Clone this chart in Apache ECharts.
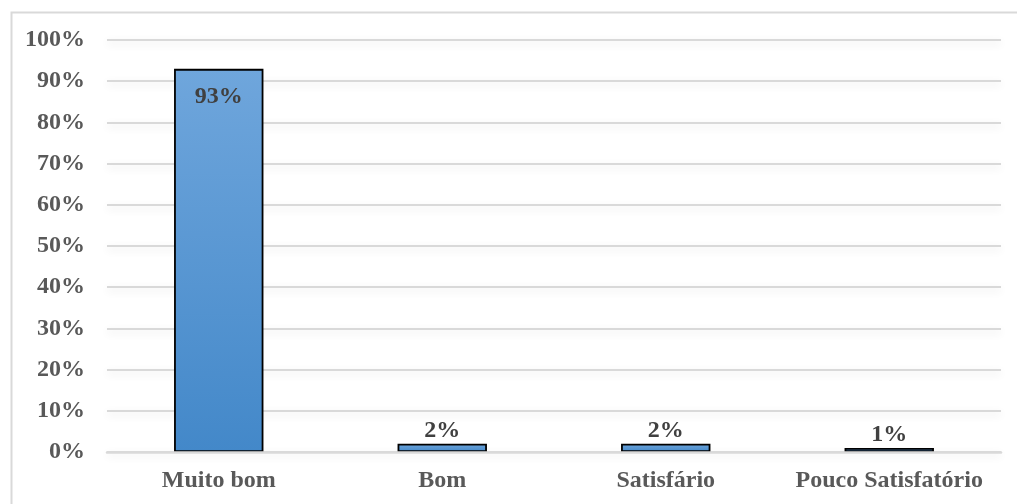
<!DOCTYPE html>
<html>
<head>
<meta charset="utf-8">
<style>
  html, body { margin: 0; padding: 0; background: #ffffff; }
  #chart { width: 1017px; height: 504px; }
</style>
<script src="https://cdn.jsdelivr.net/npm/echarts@6/dist/echarts.min.js"></script>
</head>
<body>
<div id="chart"></div>
<script>
// Rating categories and their shares (percent)
const categories = ['Muito bom', 'Bom', 'Satisfário', 'Pouco Satisfatório'];
const shares = [93, 2, 2, 1];
// Y axis ticks (percent)
const yMin = 0;
const yMax = 100;
const yStep = 10;

const serif = '"Liberation Serif", "Times New Roman", serif';

const chart = echarts.init(document.getElementById('chart'), null, { renderer: 'canvas' });

chart.setOption({
  backgroundColor: '#ffffff',
  animation: false,
  graphic: [{
    type: 'rect',
    left: 9,
    top: 10,
    shape: { width: 1030, height: 520 },
    style: { fill: 'none', stroke: '#d9d9d9', lineWidth: 2 },
    silent: true,
    z: 0
  }],
  grid: { left: 107, right: 16, top: 40, bottom: 52, containLabel: false },
  xAxis: {
    type: 'category',
    data: categories,
    z: 5,
    axisLine: { show: true, lineStyle: { color: '#d9d9d9', width: 2.5 } },
    axisTick: { show: false },
    axisLabel: {
      interval: 0,
      hideOverlap: false,
      color: '#595959',
      fontFamily: serif,
      fontWeight: 'bold',
      fontSize: 24,
      margin: 17
    }
  },
  yAxis: {
    type: 'value',
    min: yMin,
    max: yMax,
    interval: yStep,
    axisLine: { show: false },
    axisTick: { show: false },
    axisLabel: {
      formatter: v => v + '%',
      color: '#595959',
      fontFamily: serif,
      fontWeight: 'bold',
      fontSize: 24,
      margin: 22
    },
    splitLine: {
      lineStyle: {
        color: '#d9d9d9',
        width: 2,
        shadowColor: 'rgba(0,0,0,0.12)',
        shadowBlur: 8,
        shadowOffsetY: 3
      }
    }
  },
  series: [{
    type: 'bar',
    data: shares.map(v => ({
      value: v,
      label: v > 50
        ? { position: 'insideTop', distance: 16 }
        : { position: 'top', distance: 1 }
    })),
    barWidth: '40%',
    itemStyle: {
      color: new echarts.graphic.LinearGradient(0, 0, 0, 1, [
        { offset: 0, color: '#6fa6dc' },
        { offset: 1, color: '#4388c9' }
      ]),
      borderColor: '#000000',
      borderWidth: 1.8
    },
    label: {
      show: true,
      formatter: p => p.value + '%',
      color: '#404040',
      fontFamily: serif,
      fontWeight: 'bold',
      fontSize: 24
    }
  }]
});
</script>
</body>
</html>
